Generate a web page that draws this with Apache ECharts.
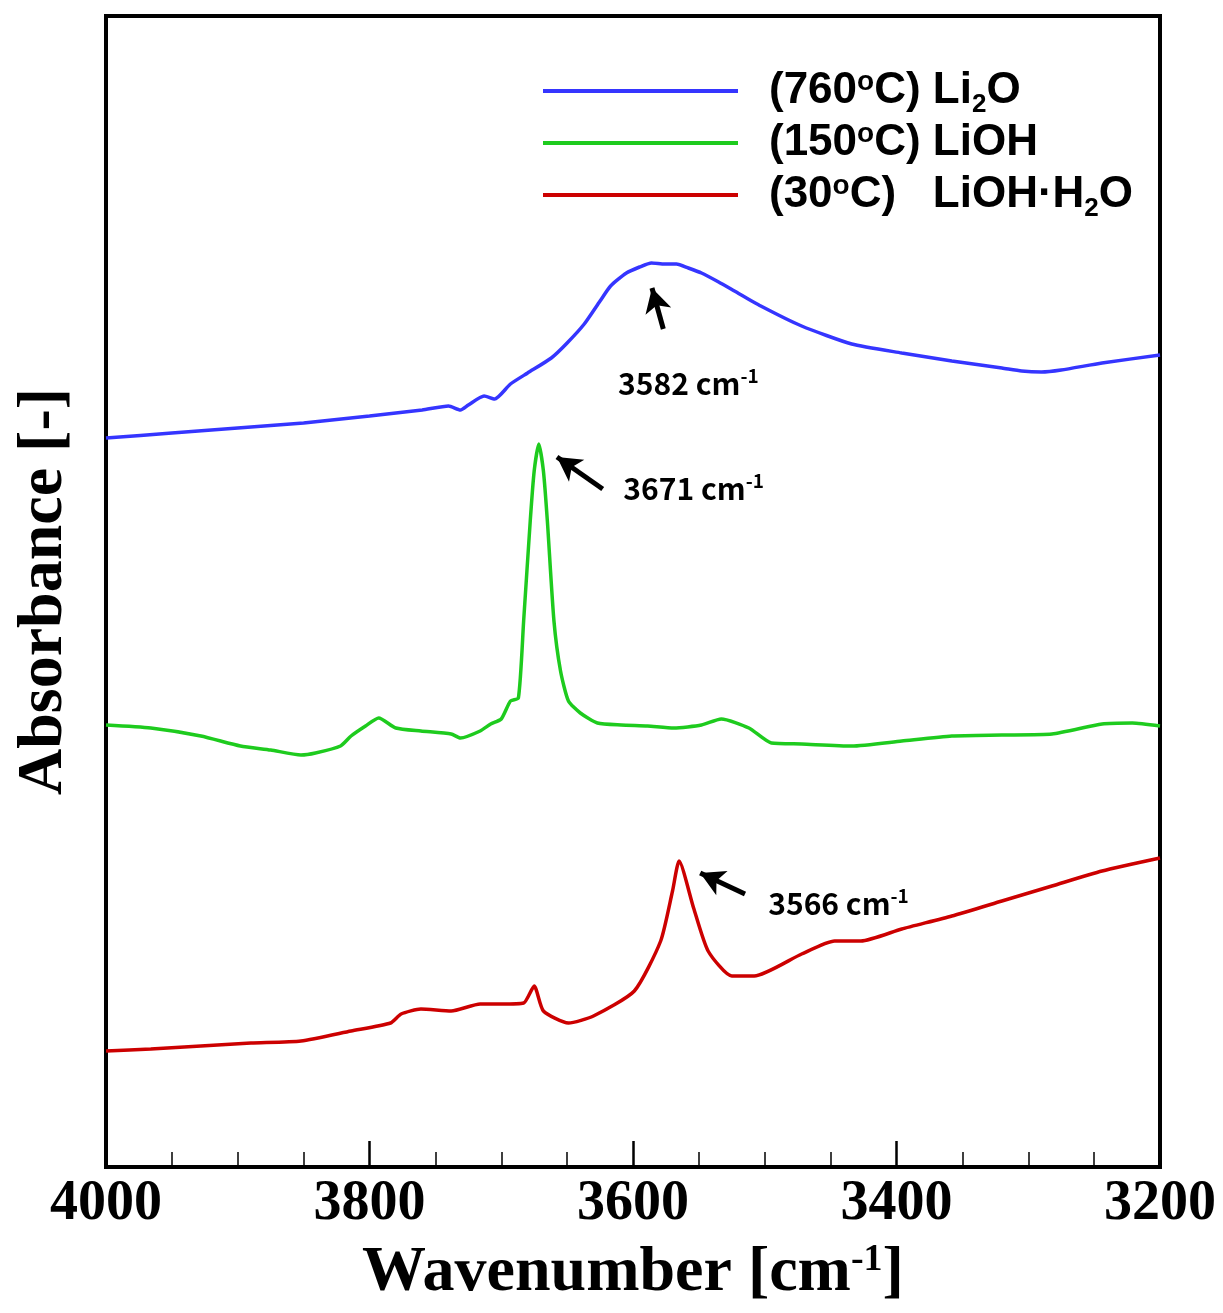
<!DOCTYPE html>
<html>
<head>
<meta charset="utf-8">
<script src="https://cdn.jsdelivr.net/npm/echarts@6/dist/echarts.min.js"></script>
<style>
html,body{margin:0;padding:0;background:#fff;}
#chart{width:1223px;height:1313px;}
</style>
</head>
<body>
<div id="chart"></div>
<script>
// ---- Data (wavenumber in cm-1, absorbance in arbitrary offset units) ----
const li2oWave = [4000,3950,3900,3850,3800,3760,3740,3731,3725,3713,3705,3693,3680,3662,3650,3637,3625,3617,3605,3595,3586,3576,3567,3558,3548,3535,3523,3503,3472,3434,3396,3358,3320,3305,3290,3275,3244,3200];
const li2oAbs  = [729,734,739,744,751,757,761,757,762,771,768,783,794,809,824,843,866,881,894,900,904,903,903,899,894,885,876,861,841,823,814,806,799,796,795,797,804,812];

const liohWave = [4000,3966,3928,3898,3875,3852,3841,3822,3814,3803,3793,3780,3761,3738,3731,3716,3708,3700,3693,3687,3683,3678,3675,3671.5,3668,3665,3660,3655,3649,3640,3627,3609,3589,3569,3548,3533,3512,3495,3472,3434,3396,3358,3320,3282,3244,3221,3200];
const liohAbs  = [442,439,431,421,417,412,414,421,431,441,449,439,436,433,429,436,443,448,466,469,546,646,696,723,696,646,546,496,466,454,444,442,441,439,442,448,439,424,423,421,426,431,432,433,443,444,441];

const hydWave = [4000,3966,3928,3890,3852,3814,3784,3776,3761,3738,3716,3700,3683,3675,3668,3649,3630,3599,3579,3570,3565,3554,3543,3525,3508,3472,3447,3427,3396,3358,3320,3282,3244,3200];
const hydAbs  = [116,118,121,124,126,136,144,153,158,156,163,163,164,181,156,144,151,176,226,276,306,259,216,191,191,213,226,226,238,251,266,281,296,309];

const seriesNames = ['(760°C) Li2O', '(150°C) LiOH', '(30°C) LiOH·H2O'];
const xTicks = [4000, 3800, 3600, 3400, 3200];

// Peak annotations: label text, label anchor [wavenumber, abs], arrow tail and head
const peakLabels = ['3582', '3671', '3566'];
const peakLabelAt = [[3558, 783], [3554, 678], [3444, 263]];
const arrowTail = [[3577, 838], [3623, 678], [3515, 273]];
const arrowHead = [[3585.6, 879], [3657.7, 710], [3549, 294]];

function zip(xs, ys) { return xs.map((x, i) => [x, ys[i]]); }

const LF = 'Liberation Sans, Arial, sans-serif';
const legendRich = {
  g: { width: 26, fontSize: 44, lineHeight: 40 },
  t: { fontFamily: LF, fontWeight: 'bold', fontSize: 44, lineHeight: 40, color: '#000' },
  sup: { fontFamily: LF, fontWeight: 'bold', fontSize: 28, height: 22, lineHeight: 22, verticalAlign: 'top', color: '#000' },
  sub: { fontFamily: LF, fontWeight: 'bold', fontSize: 26, height: 12, lineHeight: 12, verticalAlign: 'bottom', color: '#000' }
};
const legendFmt = {};
legendFmt[seriesNames[0]] = '{g| }{t|(760}{sup|o}{t|C) Li}{sub|2}{t|O}';
legendFmt[seriesNames[1]] = '{g| }{t|(150}{sup|o}{t|C) LiOH}{sub| }';
legendFmt[seriesNames[2]] = '{g| }{t|(30}{sup|o}{t|C)   LiOH·H}{sub|2}{t|O}';

const colors = ['#3535ff', '#1ecb1e', '#cc0000'];

const chart = echarts.init(document.getElementById('chart'), null, { renderer: 'canvas' });
const option = {
  animation: false,
  backgroundColor: '#fff',
  grid: { left: 106, right: 63, top: 16, bottom: 146, show: true, borderColor: '#000', borderWidth: 4, backgroundColor: 'transparent' },
  legend: {
    data: seriesNames,
    orient: 'vertical',
    left: 543,
    top: 68,
    icon: 'rect',
    itemWidth: 195,
    itemHeight: 4,
    itemGap: 2,
    padding: 0,
    formatter: name => legendFmt[name],
    textStyle: { rich: legendRich }
  },
  xAxis: {
    type: 'value',
    min: 3200,
    max: 4000,
    interval: 200,
    inverse: true,
    name: '{t|Wavenumber [cm}{s|-1}{t|]}',
    nameLocation: 'middle',
    nameGap: 74,
    nameTextStyle: {
      rich: {
        t: { fontFamily: 'Liberation Serif, Times New Roman, serif', fontWeight: 'bold', fontSize: 64, lineHeight: 64, color: '#000' },
        s: { fontFamily: 'Liberation Serif, Times New Roman, serif', fontWeight: 'bold', fontSize: 38, lineHeight: 34, verticalAlign: 'top', color: '#000' }
      }
    },
    axisLine: { show: true, lineStyle: { color: '#000', width: 4 } },
    axisTick: { show: true, inside: true, length: 26, lineStyle: { color: '#000', width: 2.5 } },
    minorTick: { show: true, splitNumber: 4, length: 15, lineStyle: { color: '#000', width: 1.5 } },
    axisLabel: {
      margin: 10,
      fontFamily: 'Liberation Serif, Times New Roman, serif',
      fontWeight: 'bold',
      fontSize: 56,
      color: '#000',
      formatter: v => xTicks.includes(v) ? String(v) : ''
    },
    splitLine: { show: false }
  },
  yAxis: {
    type: 'value',
    min: 0,
    max: 1151,
    name: 'Absorbance [-]',
    nameLocation: 'middle',
    nameRotate: 90,
    nameGap: 30,
    nameTextStyle: { fontFamily: 'Liberation Serif, Times New Roman, serif', fontWeight: 'bold', fontSize: 64, color: '#000' },
    axisLine: { show: false },
    axisTick: { show: false },
    axisLabel: { show: false },
    splitLine: { show: false }
  },
  series: [
    { name: seriesNames[0], type: 'line', data: zip(li2oWave, li2oAbs), showSymbol: false, symbol: 'none', smooth: 0.2, lineStyle: { color: colors[0], width: 3.5 }, itemStyle: { color: colors[0] } },
    { name: seriesNames[1], type: 'line', data: zip(liohWave, liohAbs), showSymbol: false, symbol: 'none', smooth: 0.2, lineStyle: { color: colors[1], width: 3.5 }, itemStyle: { color: colors[1] } },
    { name: seriesNames[2], type: 'line', data: zip(hydWave, hydAbs), showSymbol: false, symbol: 'none', smooth: 0.2, lineStyle: { color: colors[2], width: 3.5 }, itemStyle: { color: colors[2] } },
    {
      name: 'arrows', type: 'line', data: [], silent: true,
      markLine: {
        silent: true,
        symbol: ['none', 'arrow'],
        symbolSize: [20, 24],
        label: { show: false },
        lineStyle: { color: '#000', width: 5, type: 'solid', opacity: 1 },
        data: arrowTail.map((t, i) => [{ coord: t }, { coord: arrowHead[i] }])
      }
    },
    {
      name: 'peakLabels', type: 'scatter', silent: true, symbolSize: 0,
      data: peakLabelAt,
      label: {
        show: true,
        position: 'inside',
        color: '#000',
        opacity: 1,
        formatter: p => '{n|' + peakLabels[p.dataIndex] + ' cm}{s|-1}',
        rich: {
          n: { fontFamily: 'Noto Sans CJK KR, Noto Sans, sans-serif', fontWeight: 'bold', fontSize: 30, lineHeight: 36, color: '#000' },
          s: { fontFamily: 'Noto Sans CJK KR, Noto Sans, sans-serif', fontWeight: 'bold', fontSize: 19, height: 20, lineHeight: 20, verticalAlign: 'top', color: '#000' }
        }
      }
    }
  ]
};
chart.setOption(option);
</script>
</body>
</html>
